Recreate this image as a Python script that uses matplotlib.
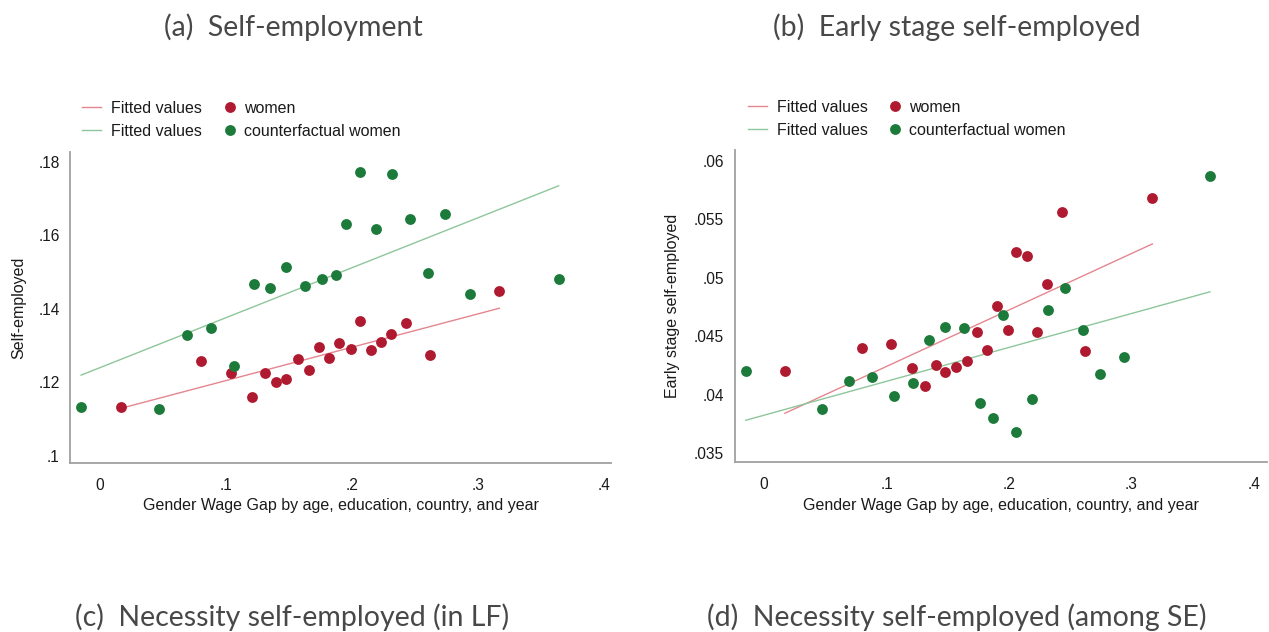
import matplotlib
matplotlib.use("Agg")
import matplotlib.pyplot as plt
from matplotlib.lines import Line2D
from matplotlib.ticker import FuncFormatter, FixedLocator

# ---------------- data ----------------
# Gender wage gap bins (shared by both panels)
women_x = [0.017, 0.080, 0.104, 0.121, 0.131, 0.140, 0.148, 0.157, 0.166, 0.174,
           0.182, 0.190, 0.199, 0.206, 0.215, 0.223, 0.231, 0.243, 0.262, 0.317]
cf_x = [-0.015, 0.047, 0.069, 0.088, 0.106, 0.122, 0.135, 0.148, 0.163, 0.176,
        0.187, 0.195, 0.206, 0.219, 0.232, 0.246, 0.260, 0.274, 0.294, 0.364]

# (a) Self-employment
a_women_y = [0.1132, 0.1258, 0.1227, 0.1160, 0.1227, 0.1200, 0.1210, 0.1263, 0.1234, 0.1296,
             0.1267, 0.1308, 0.1290, 0.1367, 0.1288, 0.1309, 0.1332, 0.1362, 0.1274, 0.1448]
a_cf_y = [0.1132, 0.1127, 0.1330, 0.1347, 0.1246, 0.1467, 0.1458, 0.1515, 0.1463, 0.1481,
          0.1493, 0.1631, 0.1773, 0.1617, 0.1768, 0.1646, 0.1499, 0.1659, 0.1440, 0.1482]
a_women_fit = [0.1130, 0.1402]   # fitted values at min / max of women_x
a_cf_fit = [0.1220, 0.1735]      # fitted values at min / max of cf_x

# (b) Early stage self-employed
b_women_y = [0.0420, 0.0440, 0.0443, 0.0423, 0.0407, 0.0425, 0.0419, 0.0424, 0.0429, 0.0454,
             0.0438, 0.0476, 0.0455, 0.0522, 0.0519, 0.0454, 0.0495, 0.0556, 0.0437, 0.0568]
b_cf_y = [0.0420, 0.0388, 0.0412, 0.0415, 0.0399, 0.0410, 0.0447, 0.0458, 0.0457, 0.0393,
          0.0380, 0.0468, 0.0368, 0.0396, 0.0472, 0.0491, 0.0455, 0.0418, 0.0432, 0.0587]
b_women_fit = [0.0384, 0.0529]
b_cf_fit = [0.0378, 0.0488]

x_ticks = [0, 0.1, 0.2, 0.3, 0.4]
a_y_ticks = [0.10, 0.12, 0.14, 0.16, 0.18]
b_y_ticks = [0.035, 0.04, 0.045, 0.05, 0.055, 0.06]

panel_titles = ["(a)  Self-employment", "(b)  Early stage self-employed",
                "(c)  Necessity self-employed (in LF)", "(d)  Necessity self-employed (among SE)"]
x_label = "Gender Wage Gap by age, education, country, and year"
a_ylabel = "Self-employed"
b_ylabel = "Early stage self-employed"
line_labels = ["Fitted values", "Fitted values"]
dot_labels = ["women", "counterfactual women"]

# ---------------- style ----------------
W, H = 1269, 632
RED = "#b01a30"
GREEN = "#1c7a3b"
RED_FIT = "#e4868f"
GREEN_FIT = "#8ec69b"
AX_COL = "#a0a0a0"
TXT = "#1a1a1a"
FS = 11.2      # tick labels
FSL = 11.55    # axis titles / legend
plt.rcParams['font.family'] = ['Liberation Sans', 'DejaVu Sans']

fig = plt.figure(figsize=(W / 100, H / 100), dpi=100)
fig.patch.set_facecolor("white")


def px_axes(l, r, t, b):
    return fig.add_axes([l / W, 1 - b / H, (r - l) / W, (b - t) / H])


def fmt_lead(v, pos=None):
    if abs(v) < 1e-12:
        return "0"
    s = ("%.3f" % v).rstrip("0")
    return s.replace("0.", ".", 1)


def style_axes(ax, xlim, ylim, yticks, ylabel, ylab_x, ypad):
    ax.set_xlim(*xlim)
    ax.set_ylim(*ylim)
    for s in ["top", "right"]:
        ax.spines[s].set_visible(False)
    for s in ["left", "bottom"]:
        ax.spines[s].set_color(AX_COL)
        ax.spines[s].set_linewidth(1.3)
    ax.xaxis.set_major_locator(FixedLocator(x_ticks))
    ax.yaxis.set_major_locator(FixedLocator(yticks))
    ax.xaxis.set_major_formatter(FuncFormatter(fmt_lead))
    ax.yaxis.set_major_formatter(FuncFormatter(fmt_lead))
    ax.tick_params(axis="x", length=0, pad=11, labelsize=FS, labelcolor=TXT)
    ax.tick_params(axis="y", length=0, pad=ypad, labelsize=FS, labelcolor=TXT)
    ax.set_xlabel(x_label, fontsize=FSL, color=TXT)
    ax.xaxis.set_label_coords(0.5, -0.138)
    ax.xaxis.label.set_va("center")
    ax.set_ylabel(ylabel, fontsize=FSL, color=TXT)
    ax.yaxis.set_label_coords(ylab_x, 0.5)
    ax.yaxis.label.set_va("center")
    ax.set_facecolor("white")


def draw(ax, wy, cy, wfit, cfit):
    ax.plot([min(women_x), max(women_x)], wfit, color=RED_FIT, lw=1.0, zorder=2)
    ax.plot([min(cf_x), max(cf_x)], cfit, color=GREEN_FIT, lw=1.0, zorder=2)
    ax.plot(women_x, wy, "o", color=RED, ms=7.8, mec="none", zorder=3)
    ax.plot(cf_x, cy, "o", color=GREEN, ms=7.8, mec="none", zorder=3)


def legend(left_px, dot_left_px, top_px):
    kw = dict(loc="upper left", bbox_transform=fig.transFigure, frameon=False,
              fontsize=FSL, borderpad=0, borderaxespad=0, handletextpad=0.6,
              labelspacing=0.5, labelcolor=TXT)
    lines = [Line2D([], [], color=RED_FIT, lw=1.0),
             Line2D([], [], color=GREEN_FIT, lw=1.0)]
    dots = [Line2D([], [], ls="none", marker="o", color=RED, ms=7.8, mec="none"),
            Line2D([], [], ls="none", marker="o", color=GREEN, ms=7.8, mec="none")]
    fig.legend(lines, line_labels, bbox_to_anchor=(left_px / W, 1 - top_px / H),
               handlelength=1.2, **kw)
    fig.legend(dots, dot_labels, bbox_to_anchor=(dot_left_px / W, 1 - top_px / H),
               handlelength=0.6, **kw)


# panel (a)
ax1 = px_axes(70, 611, 152, 463)
draw(ax1, a_women_y, a_cf_y, a_women_fit, a_cf_fit)
style_axes(ax1, (-0.0238, 0.4056), (0.0981, 0.1827), a_y_ticks, a_ylabel, -0.094, 7.5)
legend(82, 225, 101)

# panel (b)
ax2 = px_axes(735, 1267, 150, 462)
draw(ax2, b_women_y, b_cf_y, b_women_fit, b_cf_fit)
style_axes(ax2, (-0.0237, 0.4106), (0.03423, 0.06094), b_y_ticks, b_ylabel, -0.118, 8)
legend(748, 890, 100)

# panel titles
title_kw = dict(ha="center", va="center", fontsize=20.5, color="#484848",
                family=["Lato", "DejaVu Sans"], fontweight="normal")
fig.text(293 / W, 1 - 27 / H, panel_titles[0], **title_kw)
fig.text(957 / W, 1 - 27 / H, panel_titles[1], **title_kw)
fig.text(292 / W, 1 - 617 / H, panel_titles[2], **title_kw)
fig.text(957 / W, 1 - 617 / H, panel_titles[3], **title_kw)

fig.savefig("out.png", dpi=100, facecolor="white")
